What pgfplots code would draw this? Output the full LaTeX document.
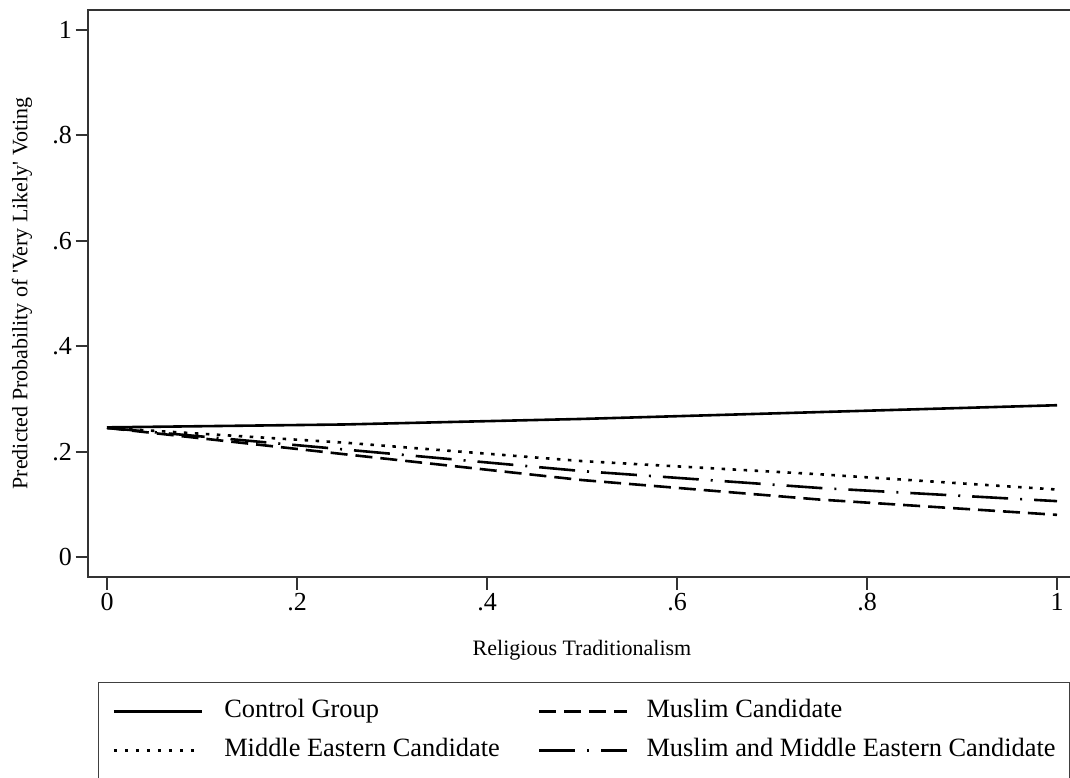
\documentclass[border=0pt]{standalone}
\usepackage{fontspec}
\setmainfont{Liberation Serif}
\usepackage{pgfplots}
\pgfplotsset{compat=1.18}

\begin{document}
\begin{tikzpicture}
\useasboundingbox (0pt,0pt) rectangle (1070pt,777pt);
\clip (0pt,0pt) rectangle (1070pt,777pt);
\begin{axis}[
  scale only axis,
  at={(88pt,200pt)}, anchor=south west,
  width=992pt, height=567pt,
  xmin=-0.02, xmax=1.0242,
  ymin=-0.03795, ymax=1.03795,
  axis line style={line width=2.4pt, color=black!80},
  tick style={line width=2pt, color=black!80},
  tick align=outside,
  major tick length=12.5pt,
  xtick pos=bottom, ytick pos=left,
  xtick={0,0.2,0.4,0.6,0.8,1},
  xticklabels={0,.2,.4,.6,.8,1},
  ytick={0,0.2,0.4,0.6,0.8,1},
  yticklabels={0,.2,.4,.6,.8,1},
  ticklabel style={font=\fontsize{26}{30}\selectfont},
  xlabel={Religious Traditionalism},
  ylabel={Predicted Probability of \textquotesingle Very Likely\textquotesingle\ Voting},
  xlabel style={font=\fontsize{22}{26}\selectfont, at={(axis description cs:0.498,-0.1287)}, anchor=center},
  ylabel style={font=\fontsize{22}{26}\selectfont, at={(axis description cs:-0.0665,0.5)}, anchor=center, rotate=0},
  every axis plot/.append style={line width=2.6pt, black, no marks},
  legend columns=2,
  legend cell align=left,
  legend image code/.code={\draw[#1] (0pt,0pt) -- (88pt,0pt);},
  legend style={
    at={(axis description cs:0.01008,-0.18519)}, anchor=north west,
    draw=black!75, line width=1.3pt,
    inner xsep=14pt, inner ysep=17pt,
    font=\fontsize{26.4}{30}\selectfont,
    row sep=15pt,
    nodes={inner sep=0pt, text height=18pt, text depth=6pt},
    /tikz/column 1/.style={column sep=21pt},
    /tikz/column 2/.style={column sep=38pt},
    /tikz/column 3/.style={column sep=18pt},
  },
]
% Control group
\addplot[black, solid] coordinates {(0,0.246) (0.25,0.2515) (0.5,0.262) (0.75,0.275) (1,0.288)};
\addlegendentry{Control Group}
% Muslim candidate
\addplot[black, dash pattern=on 17pt off 8pt] coordinates {(0,0.245) (0.25,0.195) (0.5,0.146) (0.75,0.109) (1,0.080)};
\addlegendentry{Muslim Candidate}
% Middle Eastern candidate
\addplot[black, dash pattern=on 3.5pt off 7.5pt] coordinates {(0,0.245) (0.25,0.217) (0.5,0.182) (0.75,0.157) (1,0.128)};
\addlegendentry{Middle Eastern Candidate}
% Muslim and Middle Eastern candidate
\addplot[black, dash pattern=on 36pt off 12pt on 2pt off 12pt] coordinates {(0,0.245) (0.25,0.204) (0.5,0.163) (0.75,0.131) (1,0.106)};
\addlegendentry{Muslim and Middle Eastern Candidate}
\end{axis}
\end{tikzpicture}
\end{document}
